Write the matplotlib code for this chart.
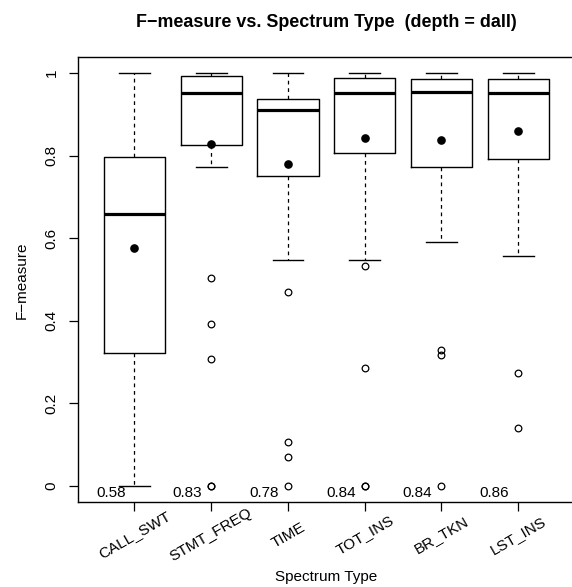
import matplotlib
matplotlib.use("Agg")
import matplotlib.pyplot as plt
import matplotlib.transforms as mtransforms

plt.rcParams['font.family'] = ['Liberation Sans', 'DejaVu Sans']

categories = ["CALL_SWT", "STMT_FREQ", "TIME", "TOT_INS", "BR_TKN", "LST_INS"]
whislo = [0.0, 0.773, 0.547, 0.547, 0.590, 0.556]
q1 = [0.323, 0.826, 0.751, 0.807, 0.773, 0.792]
med = [0.658, 0.953, 0.910, 0.953, 0.954, 0.953]
q3 = [0.796, 0.993, 0.937, 0.989, 0.986, 0.985]
whishi = [1.0, 1.0, 1.0, 1.0, 1.0, 1.0]
means = [0.577, 0.829, 0.779, 0.843, 0.838, 0.861]
fliers = [
    [],
    [0.504, 0.391, 0.308, 0.0, 0.0],
    [0.469, 0.106, 0.070, 0.0],
    [0.533, 0.285, 0.0, 0.0],
    [0.328, 0.316, 0.0],
    [0.273, 0.139],
]
yticks = [0, 0.2, 0.4, 0.6, 0.8, 1.0]
ytick_labels = ["0", "0.2", "0.4", "0.6", "0.8", "1"]

W, H = 572, 587
fig = plt.figure(figsize=(W / 100, H / 100), dpi=100)
ax = fig.add_axes([77.7 / W, (H - 502.3) / H, (575 - 77.7) / W, (502.3 - 56.7) / H])

stats = []
for i in range(len(categories)):
    stats.append(dict(whislo=whislo[i], q1=q1[i], med=med[i], q3=q3[i],
                      whishi=whishi[i], fliers=fliers[i], label=categories[i]))

pos = list(range(1, len(categories) + 1))
ax.bxp(stats, positions=pos, widths=0.8, showfliers=True, patch_artist=False,
       boxprops=dict(color='black', linewidth=1.0),
       medianprops=dict(color='black', linewidth=2.3, solid_capstyle='butt'),
       whiskerprops=dict(color='black', linewidth=0.9, linestyle=(0, (3, 3))),
       capprops=dict(color='black', linewidth=1.0),
       flierprops=dict(marker='o', markerfacecolor='none', markeredgecolor='black',
                       markersize=4.8, markeredgewidth=0.9, linestyle='none'))

ax.plot(pos, means, 'o', color='black', markersize=5.2, zorder=5)

for p, m in zip(pos, means):
    ax.text(p - 0.31, -0.018, f"{m:.2f}", ha='center', va='center', fontsize=11)

ax.set_xlim(0.26, 6.74)
ax.set_ylim(-0.04, 1.04)
ax.set_xticks(pos)
ax.set_xticklabels([])
ax.set_yticks(yticks)
ax.set_yticklabels(ytick_labels, fontsize=11)
for lab in ax.get_yticklabels():
    lab.set_rotation(90)
    lab.set_ha('center')
    lab.set_va('center')
ax.tick_params(axis='both', direction='out', length=6.3, width=0.9, color='black')
ax.tick_params(axis='y', pad=12.4)
for s in ax.spines.values():
    s.set_linewidth(1.0)

# rotated category labels, centred under each tick
offset = mtransforms.ScaledTranslation(0, -(535 - 502.3) / 100, fig.dpi_scale_trans)
for p, c in zip(pos, categories):
    ax.text(p, 0, c, transform=ax.get_xaxis_transform() + offset, rotation=30,
            ha='center', va='center', rotation_mode='anchor', fontsize=11)

fig.text(326 / W, 1 - 22.7 / H, "F\u2212measure vs. Spectrum Type  (depth = dall)",
         ha='center', va='center', fontsize=12.9, fontweight='bold')
fig.text(326 / W, 1 - 577 / H, "Spectrum Type", ha='center', va='center', fontsize=11)
fig.text(22 / W, 1 - 280 / H, "F\u2212measure", ha='center', va='center', rotation=90, fontsize=11)

fig.savefig("out.png", dpi=100)
